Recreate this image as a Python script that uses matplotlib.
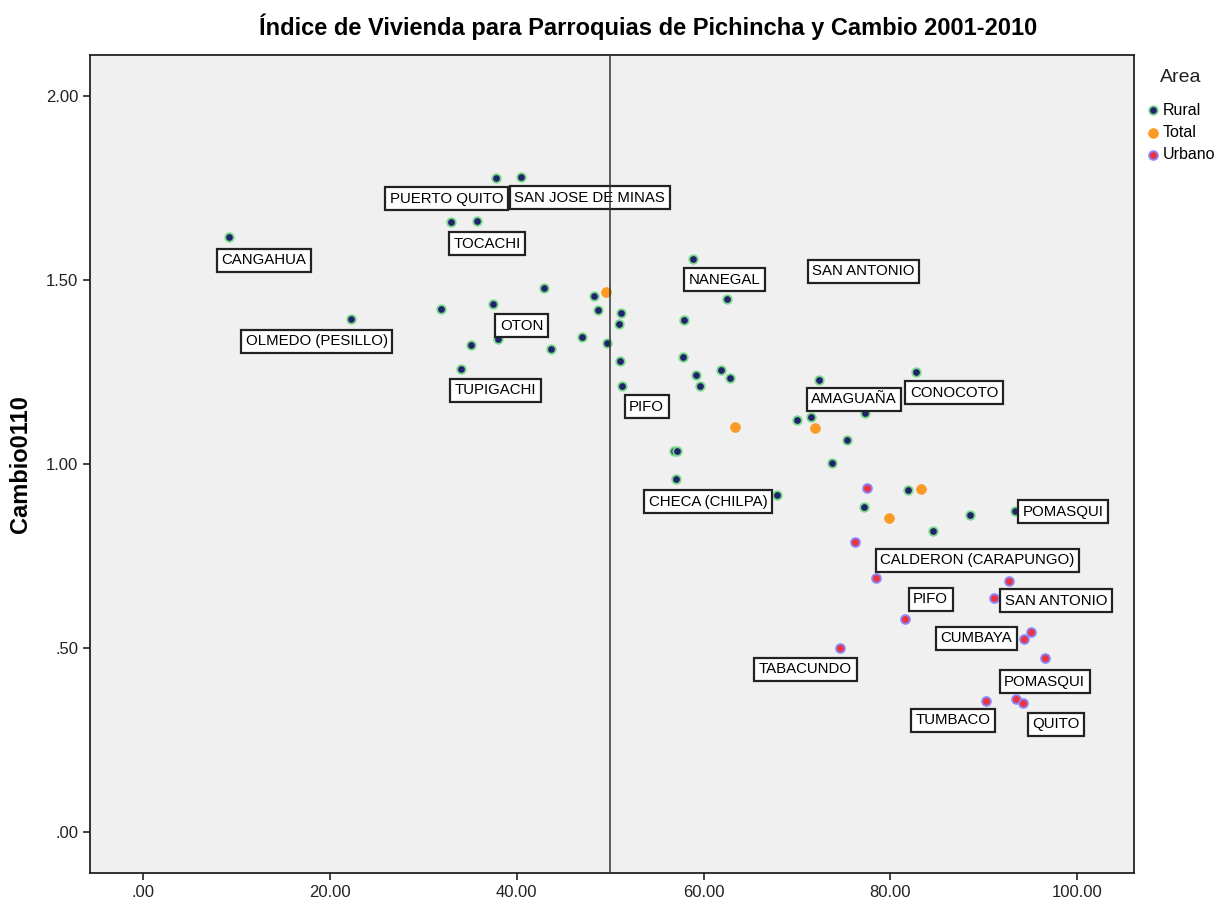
import matplotlib.pyplot as plt
from matplotlib.ticker import FuncFormatter

plt.rcParams['font.family'] = ['Liberation Sans', 'DejaVu Sans']

# Rural parroquias
rural_x = [9.2, 22.3, 37.8, 40.5, 33.0, 35.7, 31.9, 37.4, 42.9, 48.3, 48.7, 51.1, 50.9,
           35.1, 38.0, 43.7, 47.0, 49.7, 51.0, 34.0, 51.3, 58.9, 62.5, 57.9, 57.8, 59.2,
           59.6, 61.9, 62.8, 56.8, 57.1, 57.0, 67.8, 70.0, 71.5, 72.4, 82.7, 77.3, 75.4,
           73.7, 81.9, 77.2, 88.5, 93.3, 84.6]
rural_y = [1.617, 1.394, 1.777, 1.780, 1.658, 1.660, 1.421, 1.435, 1.478, 1.457, 1.418, 1.410, 1.380,
           1.323, 1.340, 1.313, 1.345, 1.329, 1.280, 1.258, 1.212, 1.557, 1.448, 1.391, 1.291, 1.242,
           1.212, 1.255, 1.234, 1.035, 1.035, 0.959, 0.916, 1.120, 1.128, 1.228, 1.250, 1.139, 1.065,
           1.003, 0.929, 0.883, 0.861, 0.872, 0.818]

# Totales por canton
total_x = [49.6, 63.4, 71.9, 83.3, 79.8, 88.5]
total_y = [1.467, 1.100, 1.098, 0.932, 0.853, 0.755]

# Urbano
urban_x = [77.5, 76.2, 78.5, 92.7, 91.1, 81.6, 95.0, 94.3, 74.6, 96.5, 90.2, 93.4, 94.2]
urban_y = [0.935, 0.788, 0.690, 0.682, 0.636, 0.579, 0.543, 0.525, 0.500, 0.473, 0.356, 0.361, 0.350]

label_text = ['PUERTO QUITO', 'SAN JOSE DE MINAS', 'TOCACHI', 'CANGAHUA', 'NANEGAL',
              'SAN ANTONIO', 'OLMEDO (PESILLO)', 'OTON', 'TUPIGACHI', 'PIFO', 'AMAGUAÑA',
              'CONOCOTO', 'CHECA (CHILPA)', 'POMASQUI', 'CALDERON (CARAPUNGO)', 'PIFO',
              'SAN ANTONIO', 'CUMBAYA', 'TABACUNDO', 'POMASQUI', 'TUMBACO', 'QUITO']
label_x = [32.5, 47.8, 36.8, 12.9, 62.2, 77.1, 18.6, 40.5, 37.7, 53.9, 76.1, 86.8, 60.5,
           98.5, 89.3, 84.3, 97.7, 89.2, 70.9, 96.5, 86.7, 97.7]
label_y = [1.720, 1.723, 1.598, 1.554, 1.500, 1.524, 1.334, 1.375, 1.201, 1.155, 1.176, 1.193,
           0.897, 0.870, 0.739, 0.633, 0.628, 0.527, 0.443, 0.408, 0.304, 0.293]

fig = plt.figure(figsize=(12.22, 9.08), dpi=100)
ax = fig.add_axes([0.0736, 0.0385, 0.8546, 0.9009])
ax.set_facecolor('#f0f0f0')

ax.scatter(rural_x, rural_y, s=38, c='#22226e', edgecolors='#7ad98a', linewidths=1.3,
           label='Rural', zorder=3)
ax.scatter(total_x, total_y, s=50, c='#fb9a24', edgecolors='#fb9a24', linewidths=0.5,
           label='Total', zorder=3)
ax.scatter(urban_x, urban_y, s=40, c='#ee3340', edgecolors='#8a86ff', linewidths=1.3,
           label='Urbano', zorder=3)

# reference line drawn over the label boxes
ax.axvline(50, color='#333333', lw=1.1, zorder=6)

for t, x, y in zip(label_text, label_x, label_y):
    ax.text(x, y, t, ha='center', va='center', fontsize=10.8, zorder=5,
            bbox=dict(boxstyle='square,pad=0.3', fc='white', ec='#222222', lw=1.6))

ax.set_xlim(-5.7, 106.1)
ax.set_ylim(-0.111, 2.111)
ax.set_xticks([0, 20, 40, 60, 80, 100])
ax.set_yticks([0, 0.5, 1.0, 1.5, 2.0])
fmt = FuncFormatter(lambda v, p: f'{v:.2f}'.lstrip('0') if v < 1 else f'{v:.2f}')
ax.xaxis.set_major_formatter(fmt)
ax.yaxis.set_major_formatter(fmt)
ax.tick_params(labelsize=12, length=5, width=1.2, colors='#222222')
for s in ax.spines.values():
    s.set_color('#222222')
    s.set_linewidth(1.3)

ax.set_ylabel('Cambio0110', fontsize=17, fontweight='bold', labelpad=10)
fig.text(0.53, 0.985, 'Índice de Vivienda para Parroquias de Pichincha y Cambio 2001-2010',
         ha='center', va='top', fontsize=17, fontweight='bold')

fig.text(0.9665, 0.915, 'Area', ha='center', va='center', fontsize=14, color='#222222')
leg = fig.legend(loc='upper left', bbox_to_anchor=(0.932, 0.894), frameon=False,
                 fontsize=11.5, handletextpad=0.1, borderaxespad=0, labelspacing=0.45,
                 markerscale=1.0, handlelength=1)

fig.savefig('out.png', dpi=100)
